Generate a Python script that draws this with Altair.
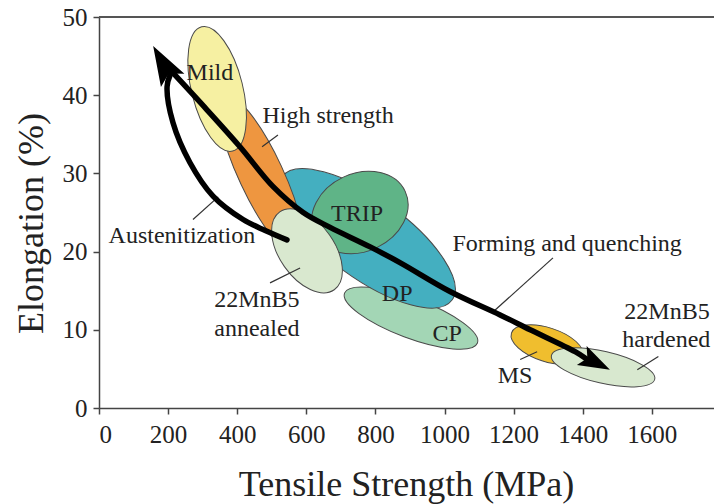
import altair as alt
import pandas as pd

FONT = "Liberation Serif"

# ---- ellipse regions (centre in data units) ----
reg_names = ["CP", "DP", "TRIP", "High strength", "Mild", "22MnB5 annealed", "MS", "22MnB5 hardened"]
reg_x = [903, 776, 755, 469, 342, 602, 1297, 1459]
reg_y = [11.5, 21.7, 25.0, 29.8, 40.8, 20.1, 8.1, 5.2]
# styles of the ellipses (pixel length, minor/major ratio, rotation, fill)
reg_len = [142, 210, 100, 177, 128, 95, 75, 106]
reg_ratio = [0.28, 0.38, 0.78, 0.25, 0.40, 0.58, 0.45, 0.30]
reg_angle = [20.6, 36, 335, 65, 76, 55, 18, 13]
reg_color = ["#A3D6B5", "#44AFC0", "#5FB487", "#EE9640", "#F6F0A2", "#D9E8CF", "#F0BE2E", "#D8E8CF"]

# ---- arrows ----
aus_x = [544, 481, 417, 330, 263, 214, 197, 206]
aus_y = [21.5, 22.7, 24.1, 27.1, 31.4, 36.5, 41.1, 42.6]
form_x = [211, 313, 408, 504, 591, 669, 785, 871, 1016, 1161, 1248, 1378, 1410]
form_y = [43.0, 38.1, 33.4, 28.3, 25.0, 23.1, 20.6, 18.6, 14.9, 11.9, 10.0, 7.2, 6.3]
head_x = [185, 1438]
head_y = [44.1, 5.8]

# ---- labels ----
lab_text = ["Mild", "High strength", "TRIP", "DP", "CP", "Austenitization", "22MnB5", "annealed",
            "Forming and quenching", "22MnB5", "hardened", "MS"]
lab_x = [321, 663, 747, 863, 1008, 240, 457, 457, 1355, 1644, 1642, 1204]
lab_y = [42.9, 37.4, 24.8, 14.6, 9.4, 22.0, 13.8, 10.1, 21.0, 12.3, 8.7, 4.1]

# ---- leader lines ----
ld_x = [518, 345, 495, 1314, 1219, 1558]
ld_y = [34.9, 27.0, 16.0, 19.2, 6.2, 4.9]
ld_x2 = [472, 272, 582, 1141, 1268, 1619]
ld_y2 = [33.4, 24.1, 17.9, 12.3, 7.2, 6.6]

x_ticks = [0, 200, 400, 600, 800, 1000, 1200, 1400, 1600]
y_ticks = [0, 10, 20, 30, 40, 50]


def ellipse_path(r):
    k = 0.5523
    a = r * k
    return (f"M 1 0 C 1 {a:.4f} {k:.4f} {r:.4f} 0 {r:.4f} "
            f"C {-k:.4f} {r:.4f} -1 {a:.4f} -1 0 "
            f"C -1 {-a:.4f} {-k:.4f} {-r:.4f} 0 {-r:.4f} "
            f"C {k:.4f} {-r:.4f} 1 {-a:.4f} 1 0 Z")


ell = pd.DataFrame({
    "name": reg_names, "x": reg_x, "y": reg_y,
    "size": [L * L for L in reg_len], "angle": reg_angle,
    "i": list(range(len(reg_names))),
})

xs = alt.Scale(domain=[0, 1780], nice=False, zero=False)
ys = alt.Scale(domain=[0, 50], nice=False, zero=False)

xaxis = alt.Axis(values=x_ticks, format="d", title="Tensile Strength (MPa)", grid=False,
                 labelFont=FONT, labelFontSize=25, labelColor="#222", labelPadding=8,
                 tickSize=6, tickColor="#444", tickWidth=1.5, domainColor="#444", domainWidth=1.5,
                 titleFont=FONT, titleFontSize=36, titleFontWeight="normal", titleColor="#222",
                 titleX=307, titleY=87, titleBaseline="alphabetic", titleAlign="center",
                 labelOverlap=False)
yaxis = alt.Axis(values=y_ticks, format="d", title="Elongation (%)", grid=False,
                 labelFont=FONT, labelFontSize=25, labelColor="#222", labelPadding=6,
                 tickSize=6, tickColor="#444", tickWidth=1.5, domainColor="#444", domainWidth=1.5,
                 titleFont=FONT, titleFontSize=36, titleFontWeight="normal", titleColor="#222",
                 titleX=-57, titleY=206, titleBaseline="alphabetic", titleAlign="center",
                 labelOverlap=False)

ellipses = alt.Chart(ell).mark_point(filled=True, opacity=1, stroke="#4a4a4a", strokeWidth=1).encode(
    x=alt.X("x:Q", scale=xs, axis=xaxis),
    y=alt.Y("y:Q", scale=ys, axis=yaxis),
    shape=alt.Shape("name:N", scale=alt.Scale(domain=reg_names, range=[ellipse_path(r) for r in reg_ratio]), legend=None),
    fill=alt.Fill("name:N", scale=alt.Scale(domain=reg_names, range=reg_color), legend=None),
    size=alt.Size("size:Q", scale=None),
    angle=alt.Angle("angle:Q", scale=None),
    order=alt.Order("i:Q"),
)

arrows_df = pd.DataFrame({
    "x": aus_x + form_x,
    "y": aus_y + form_y,
    "arrow": ["aus"] * len(aus_x) + ["form"] * len(form_x),
    "i": list(range(len(aus_x))) + list(range(len(form_x))),
})
arrow_lines = alt.Chart(arrows_df).mark_line(color="black", strokeWidth=5.5, strokeCap="round",
                                             strokeJoin="round", interpolate="catmull-rom").encode(
    x=alt.X("x:Q", scale=xs), y=alt.Y("y:Q", scale=ys), detail="arrow:N", order=alt.Order("i:Q"))

head_shape = "M 1 0 L -1 -0.68 L -0.6 0 L -1 0.68 Z"
heads_df = pd.DataFrame({"x": head_x, "y": head_y, "ang": [240.5, 27], "sz": [1570, 1000]})
heads = alt.Chart(heads_df).mark_point(shape=head_shape, filled=True, color="black", opacity=1).encode(
    x=alt.X("x:Q", scale=xs), y=alt.Y("y:Q", scale=ys),
    angle=alt.Angle("ang:Q", scale=None), size=alt.Size("sz:Q", scale=None))

leaders = alt.Chart(pd.DataFrame({"x": ld_x, "y": ld_y, "x2": ld_x2, "y2": ld_y2})).mark_rule(
    color="#333", strokeWidth=1.2).encode(
    x=alt.X("x:Q", scale=xs), y=alt.Y("y:Q", scale=ys), x2="x2:Q", y2="y2:Q")

labels = alt.Chart(pd.DataFrame({"t": lab_text, "x": lab_x, "y": lab_y})).mark_text(
    font=FONT, fontSize=24, color="#222", align="center", baseline="middle").encode(
    x=alt.X("x:Q", scale=xs), y=alt.Y("y:Q", scale=ys), text="t:N")

top_border = alt.Chart(pd.DataFrame({"y": [50]})).mark_rule(color="#555", strokeWidth=2).encode(
    y=alt.Y("y:Q", scale=ys))

chart = alt.layer(ellipses, leaders, arrow_lines, heads, labels, top_border).properties(
    width=615, height=391,
    padding={"left": 99, "top": 17, "right": 0, "bottom": 96},
    autosize=alt.AutoSizeParams(type="none"),
    background="white",
).configure_view(stroke=None)

chart.save("out.html", embed_options={"renderer": "svg", "actions": False})
